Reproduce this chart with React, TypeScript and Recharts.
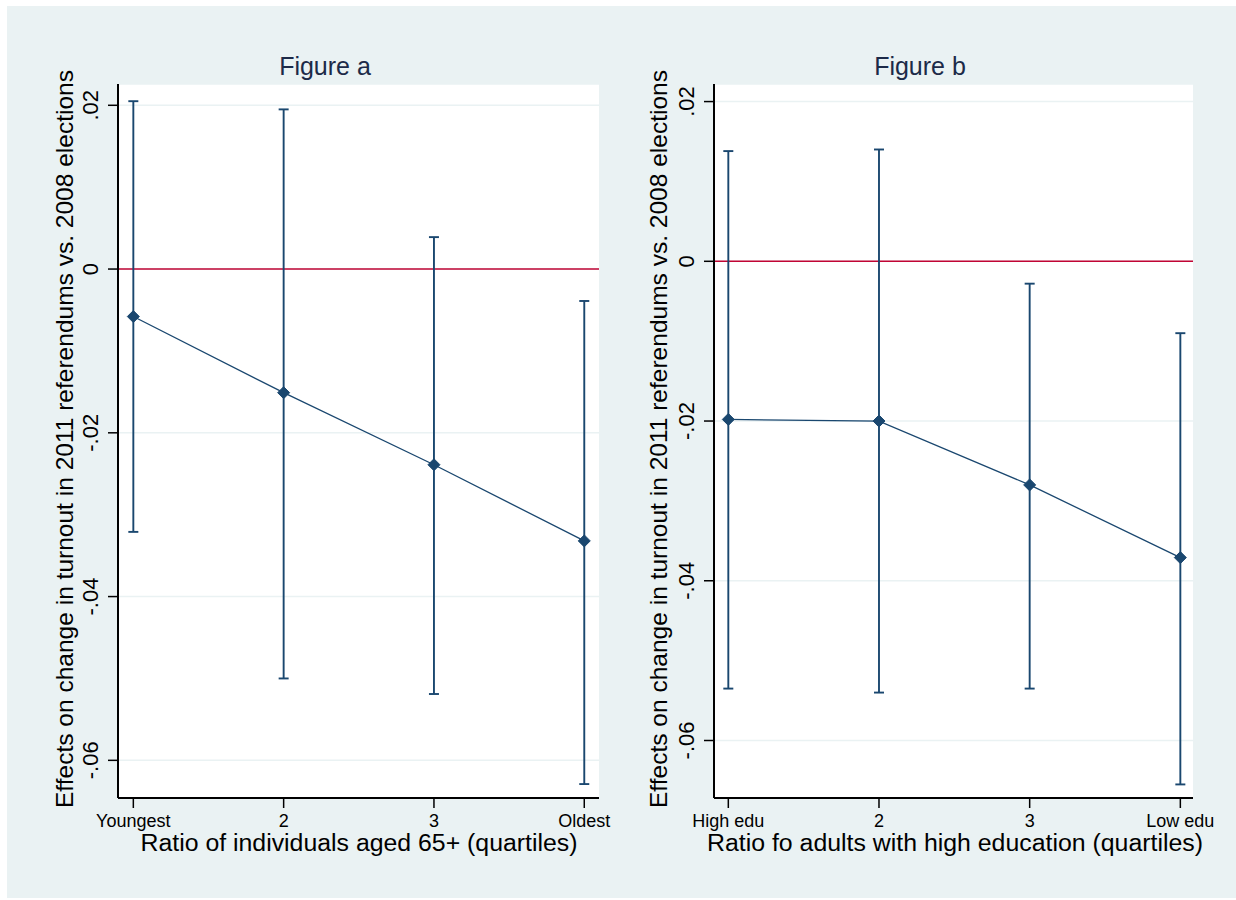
import {
  ComposedChart,
  Line,
  ErrorBar,
  XAxis,
  YAxis,
  CartesianGrid,
  ReferenceLine,
} from "recharts";

// Figure a: quartiles of the share of residents aged 65+
const ageQuartiles = ["Youngest", "2", "3", "Oldest"];
const ageEffect = [-0.0058, -0.0151, -0.0239, -0.0332];
const ageUpper = [0.0205, 0.0195, 0.0039, -0.0039];
const ageLower = [-0.0321, -0.05, -0.0519, -0.0629];

// Figure b: quartiles of the share of highly educated adults
const eduQuartiles = ["High edu", "2", "3", "Low edu"];
const eduEffect = [-0.0198, -0.02, -0.028, -0.0371];
const eduUpper = [0.0138, 0.014, -0.0028, -0.009];
const eduLower = [-0.0535, -0.054, -0.0535, -0.0655];

const yTicks = [-0.06, -0.04, -0.02, 0, 0.02];
const yTickLabels = ["-.06", "-.04", "-.02", "0", ".02"];
const xTicks = [1, 2, 3, 4];

const NAVY = "#1a476f";
const CRANBERRY = "#c10534";
const PANEL = "#eaf2f3";
const FONT = "'Liberation Sans', Arial, Helvetica, sans-serif";
const Y_TITLE = "Effects on change in turnout in 2011 referendums vs. 2008 elections";

function buildRows(effect: number[], upper: number[], lower: number[]) {
  return effect.map((v, i) => ({
    q: i + 1,
    effect: v,
    ci: [v - lower[i], upper[i] - v],
  }));
}

function Diamond(props: any) {
  const { cx, cy, index } = props;
  if (cx == null || cy == null) return null;
  const r = 6;
  return (
    <path
      key={`d-${index}`}
      d={`M${cx},${cy - r}L${cx + r},${cy}L${cx},${cy + r}L${cx - r},${cy}Z`}
      fill={NAVY}
      stroke={NAVY}
      strokeWidth={1}
    />
  );
}

interface PanelProps {
  left: number;
  width: number;
  marginLeft: number;
  marginRight: number;
  labels: string[];
  domainX: [number, number];
  domainY: [number, number];
  rows: { q: number; effect: number; ci: number[] }[];
}

function EffectPanel({ left, width, marginLeft, marginRight, labels, domainX, domainY, rows }: PanelProps) {
  return (
    <div style={{ position: "absolute", left, top: 0 }}>
      <ComposedChart
        width={width}
        height={900}
        data={rows}
        margin={{ top: 84, right: marginRight, bottom: 42, left: marginLeft }}
      >
        <CartesianGrid vertical={false} stroke={PANEL} strokeWidth={1.5} fill="#ffffff" fillOpacity={1} />
        <XAxis
          type="number"
          dataKey="q"
          domain={domainX}
          ticks={xTicks}
          interval={0}
          allowDataOverflow
          height={60}
          tickSize={10}
          axisLine={{ stroke: "#000", strokeWidth: 2 }}
          tickLine={{ stroke: "#000", strokeWidth: 1.5 }}
          tick={(p: any) => (
            <text key={`x-${p.index}`} x={p.x} y={p.y + 17} textAnchor="middle" fontSize={18} fill="#000">
              {labels[p.payload.value - 1]}
            </text>
          )}
        />
        <YAxis
          type="number"
          domain={domainY}
          ticks={yTicks}
          interval={0}
          allowDataOverflow
          width={60}
          tickSize={10}
          axisLine={{ stroke: "#000", strokeWidth: 2 }}
          tickLine={{ stroke: "#000", strokeWidth: 1.5 }}
          tick={(p: any) => (
            <text
              key={`y-${p.index}`}
              transform={`translate(${p.x - 8},${p.y}) rotate(-90)`}
              textAnchor="middle"
              fontSize={22}
              fill="#000"
            >
              {yTickLabels[yTicks.indexOf(p.payload.value)]}
            </text>
          )}
        />
        <ReferenceLine y={0} stroke={CRANBERRY} strokeWidth={1.6} />
        <Line
          type="linear"
          dataKey="effect"
          stroke={NAVY}
          strokeWidth={1.3}
          dot={Diamond}
          activeDot={false}
          isAnimationActive={false}
        >
          <ErrorBar dataKey="ci" direction="y" width={5} stroke={NAVY} strokeWidth={1.9} isAnimationActive={false} />
        </Line>
      </ComposedChart>
    </div>
  );
}

export default function App() {
  const ageRows = buildRows(ageEffect, ageUpper, ageLower);
  const eduRows = buildRows(eduEffect, eduUpper, eduLower);

  return (
    <div
      style={{
        position: "absolute",
        left: 0,
        top: 0,
        width: 1236,
        height: 900,
        background: "#ffffff",
        fontFamily: FONT,
        overflow: "hidden",
      }}
    >
      <div style={{ position: "absolute", left: 7, top: 6, width: 1229, height: 892, background: PANEL }} />
      <EffectPanel
        left={0}
        width={618}
        marginLeft={58}
        marginRight={19}
        labels={ageQuartiles}
        domainX={[0.898, 4.098]}
        domainY={[-0.0646, 0.0226]}
        rows={ageRows}
      />
      <EffectPanel
        left={618}
        width={618}
        marginLeft={36}
        marginRight={43}
        labels={eduQuartiles}
        domainX={[0.905, 4.084]}
        domainY={[-0.0672, 0.0222]}
        rows={eduRows}
      />
      <svg
        width={1236}
        height={900}
        style={{ position: "absolute", left: 0, top: 0, pointerEvents: "none" }}
      >
        <text x={325} y={75} textAnchor="middle" fontSize={25} fill="#1c2a48">
          Figure a
        </text>
        <text x={920} y={75} textAnchor="middle" fontSize={25} fill="#1c2a48">
          Figure b
        </text>
        <text
          transform="translate(73,439) rotate(-90)"
          textAnchor="middle"
          fontSize={24}
          fill="#000"
          textLength={738}
          lengthAdjust="spacingAndGlyphs"
        >
          {Y_TITLE}
        </text>
        <text
          transform="translate(667,439) rotate(-90)"
          textAnchor="middle"
          fontSize={24}
          fill="#000"
          textLength={738}
          lengthAdjust="spacingAndGlyphs"
        >
          {Y_TITLE}
        </text>
        <text
          x={359}
          y={851}
          textAnchor="middle"
          fontSize={23}
          fill="#000"
          textLength={437}
          lengthAdjust="spacingAndGlyphs"
        >
          Ratio of individuals aged 65+ (quartiles)
        </text>
        <text
          x={955}
          y={851}
          textAnchor="middle"
          fontSize={23}
          fill="#000"
          textLength={496}
          lengthAdjust="spacingAndGlyphs"
        >
          Ratio fo adults with high education (quartiles)
        </text>
      </svg>
    </div>
  );
}
